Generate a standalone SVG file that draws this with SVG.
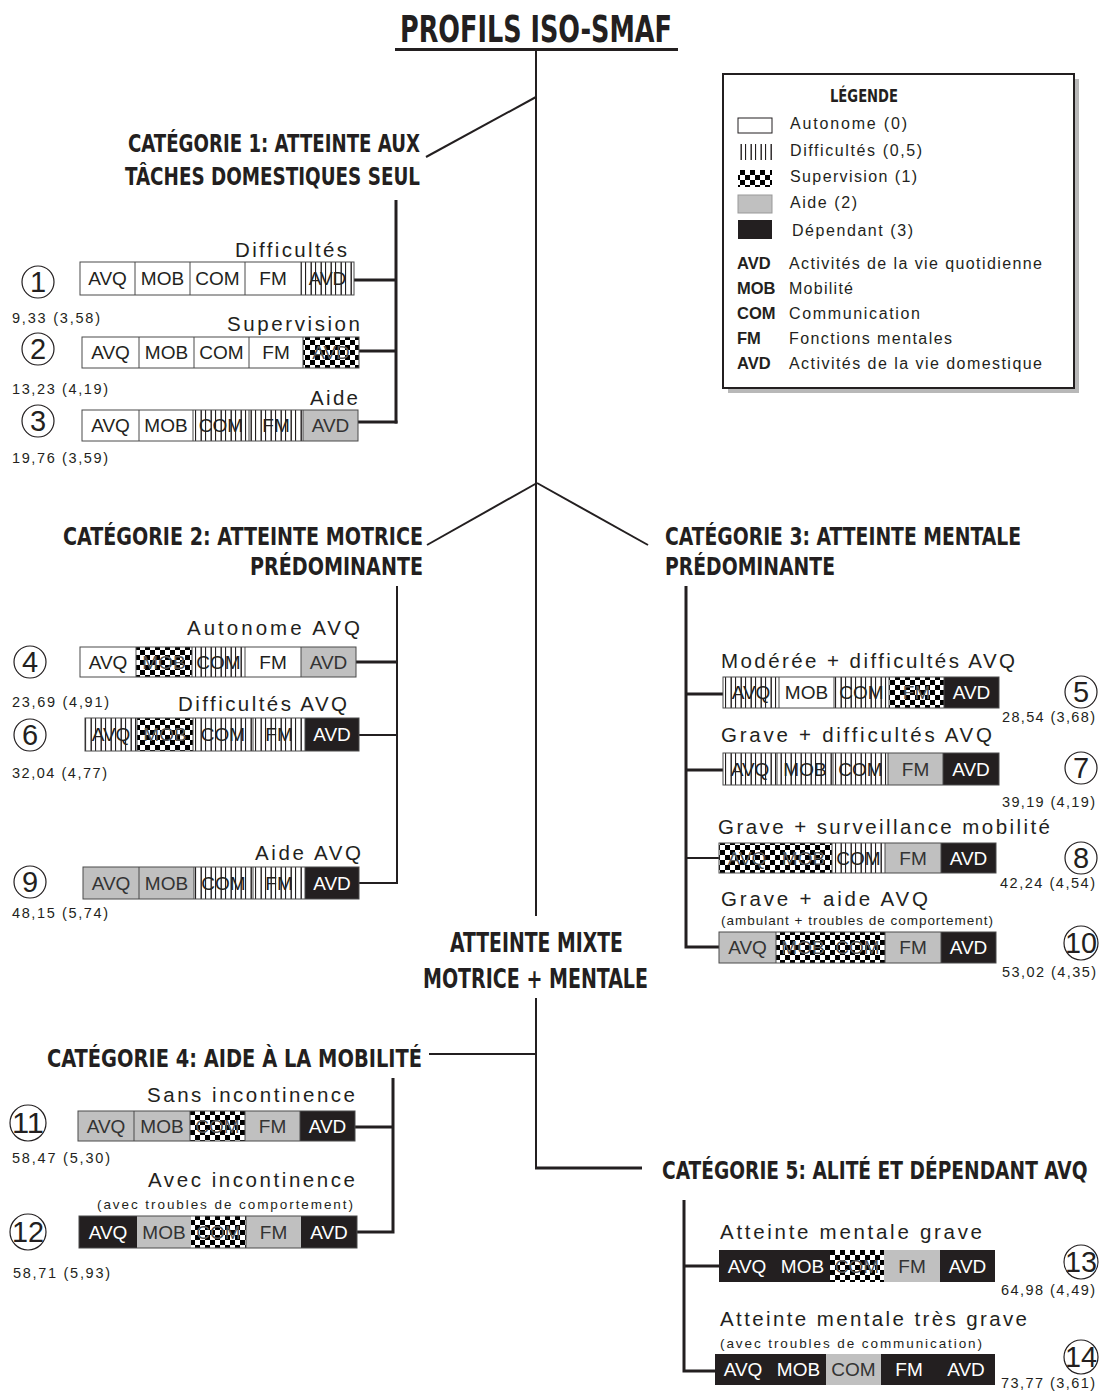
<svg xmlns="http://www.w3.org/2000/svg" width="1104" height="1398" viewBox="0 0 1104 1398">
<style>
.h{font-family:"Liberation Sans Narrow","DejaVu Sans Condensed","Liberation Sans",sans-serif;font-weight:bold;fill:#231f20}
.t{font-family:"Liberation Sans",Arial,sans-serif;fill:#231f20}
.lbl{font-size:20.5px}
.sub{font-size:13.5px}
.sc{font-size:14.5px}
.lg{font-size:16px}
.lgb{font-size:16.5px;font-weight:bold}
.seg{font-family:"Liberation Sans",Arial,sans-serif;font-size:19px;text-anchor:middle;fill:#231f20}
.wt{fill:#ffffff}
.gt{fill:#333333}
.ct{fill:#555555}
.num{font-family:"Liberation Sans",Arial,sans-serif;font-size:29px;text-anchor:middle;fill:#231f20}
.ring{fill:none;stroke:#231f20;stroke-width:1.2}
.bd{fill:none;stroke:#4a4a4a;stroke-width:1}
.W{fill:#ffffff}
.D{fill:url(#stripes)}
.S{fill:url(#checker)}
.A{fill:#c0c0c0}
.B{fill:#231f20}
.div{stroke:#4a4a4a;stroke-width:1}
.c{stroke:#231f20;fill:none;stroke-width:2}
.c3{stroke:#231f20;fill:none;stroke-width:3}
</style>
<defs>
<pattern id="stripes" patternUnits="userSpaceOnUse" width="10" height="10">
<rect width="10" height="10" fill="#ffffff"/>
<rect x="0.5" y="0" width="1.4" height="10" fill="#231f20"/>
<rect x="5" y="0" width="1.1" height="10" fill="#231f20"/>
</pattern>
<pattern id="checker" patternUnits="userSpaceOnUse" width="10" height="10">
<rect width="10" height="10" fill="#ffffff"/>
<rect x="0" y="0" width="5" height="5" fill="#000000"/>
<rect x="5" y="5" width="5" height="5" fill="#000000"/>
</pattern>
</defs>
<rect width="1104" height="1398" fill="#ffffff"/>

<g id="title">
<text class="h" x="400" y="42" font-size="37" textLength="272" lengthAdjust="spacingAndGlyphs">PROFILS ISO-SMAF</text>
<line x1="395" y1="49.5" x2="678" y2="49.5" stroke="#231f20" stroke-width="3"/>
</g>

<g id="connectors">
<line class="c" x1="536" y1="50" x2="536" y2="916"/>
<line class="c" x1="536" y1="97" x2="426" y2="157"/>
<line class="c" x1="537" y1="483" x2="427" y2="545"/>
<line class="c" x1="537" y1="483" x2="648" y2="545"/>
<polyline class="c" points="536,998 536,1168"/>
<line class="c3" x1="535" y1="1168" x2="642" y2="1168"/>
<line class="c" x1="429" y1="1054" x2="536" y2="1054"/>
<line class="c3" x1="396" y1="200" x2="396" y2="423.5"/>
<line class="c3" x1="354" y1="280" x2="396" y2="280"/>
<line class="c3" x1="359" y1="351" x2="396" y2="351"/>
<line class="c3" x1="358" y1="422" x2="397.5" y2="422"/>
<line class="c" x1="397" y1="586" x2="397" y2="884"/>
<line class="c3" x1="356" y1="662" x2="397" y2="662"/>
<line class="c" x1="359" y1="735" x2="397" y2="735"/>
<line class="c" x1="359" y1="883" x2="398" y2="883"/>
<polyline class="c3" points="686,586 686,947 719,947"/>
<line class="c3" x1="686" y1="694" x2="723" y2="694"/>
<line class="c3" x1="686" y1="770" x2="723" y2="770"/>
<line class="c" x1="686" y1="858" x2="719" y2="858"/>
<polyline class="c3" points="393,1078 393,1232 357,1232"/>
<line class="c3" x1="355" y1="1127" x2="393" y2="1127"/>
<polyline class="c3" points="684,1200 684,1371 715,1371"/>
<line class="c3" x1="684" y1="1266" x2="719" y2="1266"/>
</g>

<g id="legend">
<rect x="728" y="79" width="351" height="314" fill="#b8b8b8"/>
<rect x="723" y="74" width="351" height="314" fill="#ffffff" stroke="#231f20" stroke-width="2"/>
<text class="h" x="830" y="102" font-size="18" textLength="68" lengthAdjust="spacingAndGlyphs">LÉGENDE</text>
<rect x="738" y="118" width="34" height="15" class="W" stroke="#231f20" stroke-width="1"/>
<rect x="738" y="144" width="34" height="16" class="D"/>
<rect x="738" y="170" width="34" height="17" class="S"/>
<rect x="738" y="195" width="34" height="18" class="A" stroke="#999" stroke-width="1"/>
<rect x="738" y="220" width="34" height="19" class="B"/>
<text class="t lg" x="790" y="129" textLength="117" lengthAdjust="spacing">Autonome (0)</text>
<text class="t lg" x="790" y="156" textLength="132" lengthAdjust="spacing">Difficultés (0,5)</text>
<text class="t lg" x="790" y="182" textLength="127" lengthAdjust="spacing">Supervision (1)</text>
<text class="t lg" x="790" y="208" textLength="67" lengthAdjust="spacing">Aide (2)</text>
<text class="t lg" x="792" y="236" textLength="121" lengthAdjust="spacing">Dépendant (3)</text>
<text class="t lgb" x="737" y="269">AVD</text>
<text class="t lg" x="789" y="269" textLength="253" lengthAdjust="spacing">Activités de la vie quotidienne</text>
<text class="t lgb" x="737" y="294">MOB</text>
<text class="t lg" x="789" y="294" textLength="64" lengthAdjust="spacing">Mobilité</text>
<text class="t lgb" x="737" y="319">COM</text>
<text class="t lg" x="789" y="319" textLength="131" lengthAdjust="spacing">Communication</text>
<text class="t lgb" x="737" y="344">FM</text>
<text class="t lg" x="789" y="344" textLength="163" lengthAdjust="spacing">Fonctions mentales</text>
<text class="t lgb" x="737" y="369">AVD</text>
<text class="t lg" x="789" y="369" textLength="253" lengthAdjust="spacing">Activités de la vie domestique</text>
</g>

<g id="cat1">
<text class="h" x="128" y="152" font-size="25" textLength="292" lengthAdjust="spacingAndGlyphs">CATÉGORIE 1: ATTEINTE AUX</text>
<text class="h" x="125" y="185" font-size="25" textLength="295" lengthAdjust="spacingAndGlyphs">TÂCHES DOMESTIQUES SEUL</text>
</g>
<g id="cat2">
<text class="h" x="63" y="545" font-size="25" textLength="360" lengthAdjust="spacingAndGlyphs">CATÉGORIE 2: ATTEINTE MOTRICE</text>
<text class="h" x="250" y="575" font-size="25" textLength="173" lengthAdjust="spacingAndGlyphs">PRÉDOMINANTE</text>
</g>
<g id="cat3">
<text class="h" x="1021" y="545" font-size="25" text-anchor="end" textLength="356" lengthAdjust="spacingAndGlyphs">CATÉGORIE 3: ATTEINTE MENTALE</text>
<text class="h" x="665" y="575" font-size="25" textLength="170" lengthAdjust="spacingAndGlyphs">PRÉDOMINANTE</text>
</g>
<g id="mixte">
<text class="h" x="450" y="952" font-size="26" textLength="173" lengthAdjust="spacingAndGlyphs">ATTEINTE MIXTE</text>
<text class="h" x="423" y="988" font-size="26" textLength="225" lengthAdjust="spacingAndGlyphs">MOTRICE + MENTALE</text>
</g>
<g id="cat4">
<text class="h" x="47" y="1067" font-size="25" textLength="375" lengthAdjust="spacingAndGlyphs">CATÉGORIE 4: AIDE À LA MOBILITÉ</text>
</g>
<g id="cat5">
<text class="h" transform="translate(662,1179) scale(0.7,1)" x="0" y="0" font-size="25" textLength="608" lengthAdjust="spacingAndGlyphs">CATÉGORIE 5: ALITÉ ET DÉPENDANT AVQ</text>
</g>

<g id="p1">
<circle class="ring" cx="38" cy="282" r="16"/><text class="num" x="38" y="292">1</text>
<text class="t lbl" x="235" y="257" textLength="112" lengthAdjust="spacing">Difficultés</text>
<rect class="W" x="80" y="262" width="221" height="33"/><rect class="D" x="301" y="262" width="53" height="33"/>
<path class="div" d="M135 262V295M190 262V295M245 262V295M301 262V295"/>
<rect class="bd" x="80" y="262" width="274" height="33"/>
<text class="seg" x="107.5" y="285">AVQ</text><text class="seg" x="162.5" y="285">MOB</text><text class="seg" x="217.5" y="285">COM</text><text class="seg" x="273" y="285">FM</text><text class="seg" x="327.5" y="285">AVD</text>
<text class="t sc" x="12" y="323" textLength="88" lengthAdjust="spacing">9,33 (3,58)</text>
</g>
<g id="p2">
<circle class="ring" cx="38" cy="349" r="16"/><text class="num" x="38" y="359">2</text>
<text class="t lbl" x="227" y="331" textLength="133" lengthAdjust="spacing">Supervision</text>
<rect class="W" x="82" y="337" width="221" height="31"/><rect class="S" x="303" y="337" width="56" height="31"/>
<path class="div" d="M139 337V368M194 337V368M249 337V368M303 337V368"/>
<rect class="bd" x="82" y="337" width="277" height="31"/>
<text class="seg" x="110.5" y="359">AVQ</text><text class="seg" x="166.5" y="359">MOB</text><text class="seg" x="221.5" y="359">COM</text><text class="seg" x="276" y="359">FM</text><text class="seg ct" x="331" y="359">AVD</text>
<text class="t sc" x="12" y="394" textLength="96" lengthAdjust="spacing">13,23 (4,19)</text>
</g>
<g id="p3">
<circle class="ring" cx="38" cy="421" r="16"/><text class="num" x="38" y="431">3</text>
<text class="t lbl" x="310" y="405" textLength="48" lengthAdjust="spacing">Aide</text>
<rect class="W" x="82" y="410" width="111" height="31"/><rect class="D" x="193" y="410" width="110" height="31"/><rect class="A" x="303" y="410" width="55" height="31"/>
<path class="div" d="M139 410V441M193 410V441M249 410V441M303 410V441"/>
<rect class="bd" x="82" y="410" width="276" height="31"/>
<text class="seg" x="110.5" y="432">AVQ</text><text class="seg" x="166" y="432">MOB</text><text class="seg" x="221" y="432">COM</text><text class="seg" x="276" y="432">FM</text><text class="seg gt" x="330.5" y="432">AVD</text>
<text class="t sc" x="12" y="463" textLength="96" lengthAdjust="spacing">19,76 (3,59)</text>
</g>
<g id="p4">
<circle class="ring" cx="30" cy="662" r="16"/><text class="num" x="30" y="672">4</text>
<text class="t lbl" x="187" y="635" textLength="173" lengthAdjust="spacing">Autonome AVQ</text>
<rect class="W" x="80" y="647" width="56" height="30"/><rect class="S" x="136" y="647" width="56" height="30"/><rect class="D" x="192" y="647" width="53" height="30"/><rect class="W" x="245" y="647" width="56" height="30"/><rect class="A" x="301" y="647" width="55" height="30"/>
<path class="div" d="M136 647V677M192 647V677M245 647V677M301 647V677"/>
<rect class="bd" x="80" y="647" width="276" height="30"/>
<text class="seg" x="108" y="669">AVQ</text><text class="seg ct" x="164" y="669">MOB</text><text class="seg" x="218.5" y="669">COM</text><text class="seg" x="273" y="669">FM</text><text class="seg gt" x="328.5" y="669">AVD</text>
<text class="t sc" x="12" y="707" textLength="97" lengthAdjust="spacing">23,69 (4,91)</text>
</g>
<g id="p6">
<circle class="ring" cx="30" cy="735" r="16"/><text class="num" x="30" y="745">6</text>
<text class="t lbl" x="178" y="711" textLength="169" lengthAdjust="spacing">Difficultés AVQ</text>
<rect class="D" x="85" y="718" width="52" height="33"/><rect class="S" x="137" y="718" width="56" height="33"/><rect class="D" x="193" y="718" width="112" height="33"/><rect class="B" x="305" y="718" width="54" height="33"/>
<path class="div" d="M137 718V751M193 718V751M253 718V751M305 718V751"/>
<rect class="bd" x="85" y="718" width="274" height="33"/>
<text class="seg" x="111" y="741">AVQ</text><text class="seg ct" x="165" y="741">MOB</text><text class="seg" x="223" y="741">COM</text><text class="seg" x="279" y="741">FM</text><text class="seg wt" x="332" y="741">AVD</text>
<text class="t sc" x="12" y="778" textLength="95" lengthAdjust="spacing">32,04 (4,77)</text>
</g>
<g id="p9">
<circle class="ring" cx="30" cy="882" r="16"/><text class="num" x="30" y="892">9</text>
<text class="t lbl" x="255" y="860" textLength="106" lengthAdjust="spacing">Aide AVQ</text>
<rect class="A" x="83" y="867" width="111" height="32"/><rect class="D" x="194" y="867" width="111" height="32"/><rect class="B" x="305" y="867" width="54" height="32"/>
<path class="div" d="M139 867V899M194 867V899M253 867V899M305 867V899"/>
<rect class="bd" x="83" y="867" width="276" height="32"/>
<text class="seg gt" x="111" y="890">AVQ</text><text class="seg gt" x="166.5" y="890">MOB</text><text class="seg" x="223.5" y="890">COM</text><text class="seg" x="279" y="890">FM</text><text class="seg wt" x="332" y="890">AVD</text>
<text class="t sc" x="12" y="918" textLength="96" lengthAdjust="spacing">48,15 (5,74)</text>
</g>
<g id="p5">
<circle class="ring" cx="1081" cy="692" r="16"/><text class="num" x="1081" y="702">5</text>
<text class="t lbl" x="721" y="668" textLength="294" lengthAdjust="spacing">Modérée + difficultés AVQ</text>
<rect class="D" x="723" y="677" width="56" height="31"/><rect class="W" x="779" y="677" width="55" height="31"/><rect class="D" x="834" y="677" width="55" height="31"/><rect class="S" x="889" y="677" width="55" height="31"/><rect class="B" x="944" y="677" width="55" height="31"/>
<path class="div" d="M779 677V708M834 677V708M889 677V708M944 677V708"/>
<rect class="bd" x="723" y="677" width="276" height="31"/>
<text class="seg" x="751" y="699">AVQ</text><text class="seg" x="806.5" y="699">MOB</text><text class="seg" x="861.5" y="699">COM</text><text class="seg ct" x="916.5" y="699">FM</text><text class="seg wt" x="971.5" y="699">AVD</text>
<text class="t sc" x="1002" y="722" textLength="93" lengthAdjust="spacing">28,54 (3,68)</text>
</g>
<g id="p7">
<circle class="ring" cx="1081" cy="768" r="16"/><text class="num" x="1081" y="778">7</text>
<text class="t lbl" x="721" y="742" textLength="271" lengthAdjust="spacing">Grave + difficultés AVQ</text>
<rect class="D" x="723" y="753" width="165" height="32"/><rect class="A" x="888" y="753" width="55" height="32"/><rect class="B" x="943" y="753" width="56" height="32"/>
<path class="div" d="M777 753V785M833 753V785M888 753V785M943 753V785"/>
<rect class="bd" x="723" y="753" width="276" height="32"/>
<text class="seg" x="750" y="776">AVQ</text><text class="seg" x="805" y="776">MOB</text><text class="seg" x="860.5" y="776">COM</text><text class="seg gt" x="915.5" y="776">FM</text><text class="seg wt" x="971" y="776">AVD</text>
<text class="t sc" x="1002" y="807" textLength="93" lengthAdjust="spacing">39,19 (4,19)</text>
</g>
<g id="p8">
<circle class="ring" cx="1081" cy="858" r="16"/><text class="num" x="1081" y="868">8</text>
<text class="t lbl" x="718" y="834" textLength="332" lengthAdjust="spacing">Grave + surveillance mobilité</text>
<rect class="S" x="719" y="843" width="113" height="30"/><rect class="D" x="832" y="843" width="53" height="30"/><rect class="A" x="885" y="843" width="56" height="30"/><rect class="B" x="941" y="843" width="55" height="30"/>
<path class="div" d="M832 843V873M885 843V873M941 843V873"/>
<rect class="bd" x="719" y="843" width="277" height="30"/>
<text class="seg ct" x="747" y="865">AVQ</text><text class="seg ct" x="803.5" y="865">MOB</text><text class="seg" x="858.5" y="865">COM</text><text class="seg gt" x="913" y="865">FM</text><text class="seg wt" x="968.5" y="865">AVD</text>
<text class="t sc" x="1000" y="888" textLength="95" lengthAdjust="spacing">42,24 (4,54)</text>
</g>
<g id="p10">
<circle class="ring" cx="1081" cy="943" r="17"/><text class="num" x="1081" y="953" textLength="32" lengthAdjust="spacingAndGlyphs">10</text>
<text class="t lbl" x="721" y="906" textLength="207" lengthAdjust="spacing">Grave + aide AVQ</text>
<text class="t sub" x="721" y="925" textLength="272" lengthAdjust="spacing">(ambulant + troubles de comportement)</text>
<rect class="A" x="719" y="932" width="57" height="31"/><rect class="S" x="776" y="932" width="109" height="31"/><rect class="A" x="885" y="932" width="56" height="31"/><rect class="B" x="941" y="932" width="55" height="31"/>
<path class="div" d="M776 932V963M885 932V963M941 932V963"/>
<rect class="bd" x="719" y="932" width="277" height="31"/>
<text class="seg gt" x="747.5" y="954">AVQ</text><text class="seg ct" x="803" y="954">MOB</text><text class="seg ct" x="857.5" y="954">COM</text><text class="seg gt" x="913" y="954">FM</text><text class="seg wt" x="968.5" y="954">AVD</text>
<text class="t sc" x="1002" y="977" textLength="94" lengthAdjust="spacing">53,02 (4,35)</text>
</g>
<g id="p11">
<circle class="ring" cx="28" cy="1123" r="18"/><text class="num" x="28" y="1133" textLength="32" lengthAdjust="spacingAndGlyphs">11</text>
<text class="t lbl" x="147" y="1102" textLength="208" lengthAdjust="spacing">Sans incontinence</text>
<rect class="A" x="78" y="1111" width="112" height="30"/><rect class="S" x="190" y="1111" width="55" height="30"/><rect class="A" x="245" y="1111" width="55" height="30"/><rect class="B" x="300" y="1111" width="55" height="30"/>
<path class="div" d="M134 1111V1141M190 1111V1141M245 1111V1141M300 1111V1141"/>
<rect class="bd" x="78" y="1111" width="277" height="30"/>
<text class="seg gt" x="106" y="1133">AVQ</text><text class="seg gt" x="162" y="1133">MOB</text><text class="seg ct" x="217.5" y="1133">COM</text><text class="seg gt" x="272.5" y="1133">FM</text><text class="seg wt" x="327.5" y="1133">AVD</text>
<text class="t sc" x="12" y="1163" textLength="98" lengthAdjust="spacing">58,47 (5,30)</text>
</g>
<g id="p12">
<circle class="ring" cx="28" cy="1232" r="18"/><text class="num" x="28" y="1242" textLength="32" lengthAdjust="spacingAndGlyphs">12</text>
<text class="t lbl" x="148" y="1187" textLength="207" lengthAdjust="spacing">Avec incontinence</text>
<text class="t sub" x="97" y="1209" textLength="256" lengthAdjust="spacing">(avec troubles de comportement)</text>
<rect class="B" x="79" y="1216" width="58" height="32"/><rect class="A" x="137" y="1216" width="54" height="32"/><rect class="S" x="191" y="1216" width="55" height="32"/><rect class="A" x="246" y="1216" width="55" height="32"/><rect class="B" x="301" y="1216" width="56" height="32"/>
<path class="div" d="M246 1216V1248"/>
<rect class="bd" x="79" y="1216" width="278" height="32"/>
<text class="seg wt" x="108" y="1239">AVQ</text><text class="seg gt" x="164" y="1239">MOB</text><text class="seg ct" x="218.5" y="1239">COM</text><text class="seg gt" x="273.5" y="1239">FM</text><text class="seg wt" x="329" y="1239">AVD</text>
<text class="t sc" x="13" y="1278" textLength="97" lengthAdjust="spacing">58,71 (5,93)</text>
</g>
<g id="p13">
<circle class="ring" cx="1081" cy="1262" r="17"/><text class="num" x="1081" y="1272" textLength="32" lengthAdjust="spacingAndGlyphs">13</text>
<text class="t lbl" x="720" y="1239" textLength="262" lengthAdjust="spacing">Atteinte mentale grave</text>
<rect class="B" x="719" y="1250" width="111" height="32"/><rect class="S" x="830" y="1250" width="54" height="32"/><rect class="A" x="884" y="1250" width="56" height="32"/><rect class="B" x="940" y="1250" width="55" height="32"/>
<text class="seg wt" x="747" y="1273">AVQ</text><text class="seg wt" x="802.5" y="1273">MOB</text><text class="seg ct" x="857" y="1273">COM</text><text class="seg gt" x="912" y="1273">FM</text><text class="seg wt" x="967.5" y="1273">AVD</text>
<text class="t sc" x="1001" y="1295" textLength="94" lengthAdjust="spacing">64,98 (4,49)</text>
</g>
<g id="p14">
<circle class="ring" cx="1081" cy="1357" r="17"/><text class="num" x="1081" y="1367" textLength="32" lengthAdjust="spacingAndGlyphs">14</text>
<text class="t lbl" x="720" y="1326" textLength="307" lengthAdjust="spacing">Atteinte mentale très grave</text>
<text class="t sub" x="720" y="1348" textLength="262" lengthAdjust="spacing">(avec troubles de communication)</text>
<rect class="B" x="715" y="1354" width="111" height="31"/><rect class="A" x="826" y="1354" width="55" height="31"/><rect class="B" x="881" y="1354" width="114" height="31"/>
<text class="seg wt" x="743" y="1376">AVQ</text><text class="seg wt" x="798.5" y="1376">MOB</text><text class="seg gt" x="853.5" y="1376">COM</text><text class="seg wt" x="909" y="1376">FM</text><text class="seg wt" x="966" y="1376">AVD</text>
<text class="t sc" x="1001" y="1388" textLength="94" lengthAdjust="spacing">73,77 (3,61)</text>
</g>
</svg>
